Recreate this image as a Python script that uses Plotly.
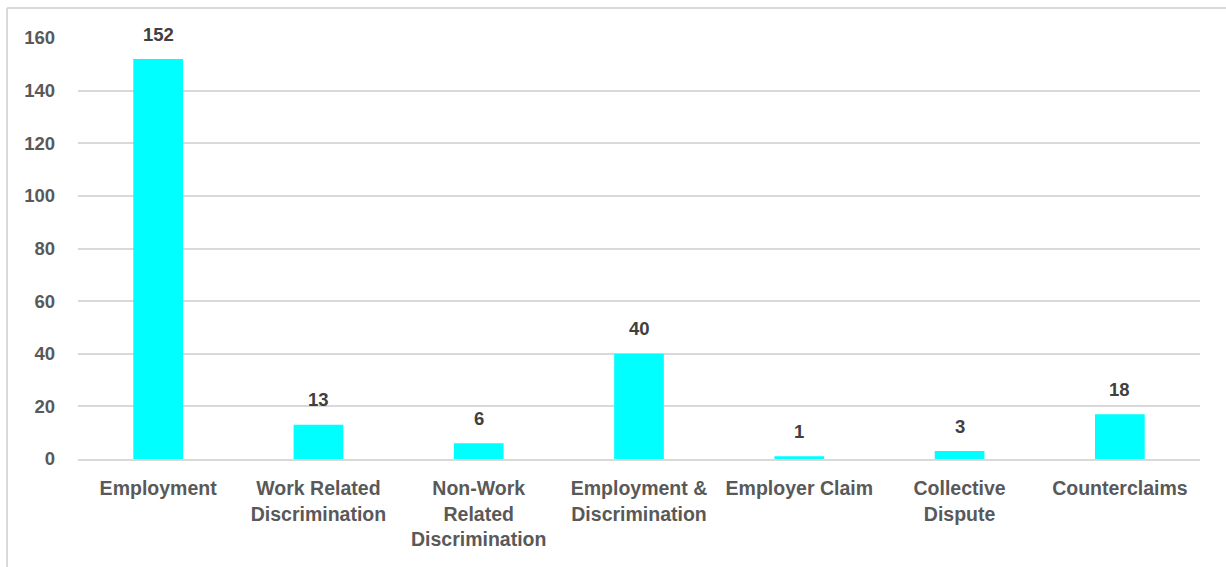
import plotly.graph_objects as go

categories = ["Employment", "Work Related<br>Discrimination", "Non-Work<br>Related<br>Discrimination",
              "Employment &<br>Discrimination", "Employer Claim", "Collective<br>Dispute", "Counterclaims"]
values = [152, 13, 6, 40, 1, 3, 17]
value_labels = ["152", "13", "6", "40", "1", "3", "18"]
y_ticks = [0, 20, 40, 60, 80, 100, 120, 140, 160]

FONT = "Liberation Sans, Arial, sans-serif"

fig = go.Figure()
fig.add_trace(go.Bar(x=categories, y=values, marker=dict(color="#00FFFF", line=dict(width=0)),
                     hoverinfo="skip"))

for c, v, t in zip(categories, values, value_labels):
    fig.add_annotation(x=c, y=v, text="<b>%s</b>" % t, showarrow=False, yanchor="middle",
                       yshift=25, font=dict(family=FONT, size=18.5, color="#404040"))

W, H = 1226, 567
ml, mr, mt, mb = 78, 26, 38, 108
pw, ph = W - ml - mr, H - mt - mb
def px(x):
    return (x - ml) / pw
def py(y):
    return (H - mb - y) / ph

# chart border (top and left visible)
fig.add_shape(type="line", xref="paper", yref="paper", x0=px(7), x1=px(1240), y0=py(8), y1=py(8),
              line=dict(color="#D9D9D9", width=2))
fig.add_shape(type="line", xref="paper", yref="paper", x0=px(7), x1=px(7), y0=py(8), y1=py(600),
              line=dict(color="#D9D9D9", width=2))

fig.update_layout(
    width=W, height=H,
    margin=dict(l=ml, r=mr, t=mt, b=mb, pad=0),
    paper_bgcolor="white", plot_bgcolor="white",
    bargap=0.69,
    showlegend=False,
    font=dict(family=FONT, color="#595959"),
    xaxis=dict(tickfont=dict(family=FONT, size=19.5, color="#595959"), showgrid=False,
               showline=True, linecolor="#D9D9D9", linewidth=2, ticks="", ticklabelstandoff=11),
    yaxis=dict(range=[0, 160], tickvals=y_ticks, ticktext=["<b>%d</b>" % v for v in y_ticks],
               tickfont=dict(family=FONT, size=18.5, color="#595959"),
               showgrid=True, gridcolor="#D9D9D9", gridwidth=1.6, zeroline=False,
               showline=False, ticks="", ticklabelstandoff=22),
)
fig.update_xaxes(ticktext=["<b>%s</b>" % c for c in categories], tickvals=categories)

fig.write_html("out.html")
